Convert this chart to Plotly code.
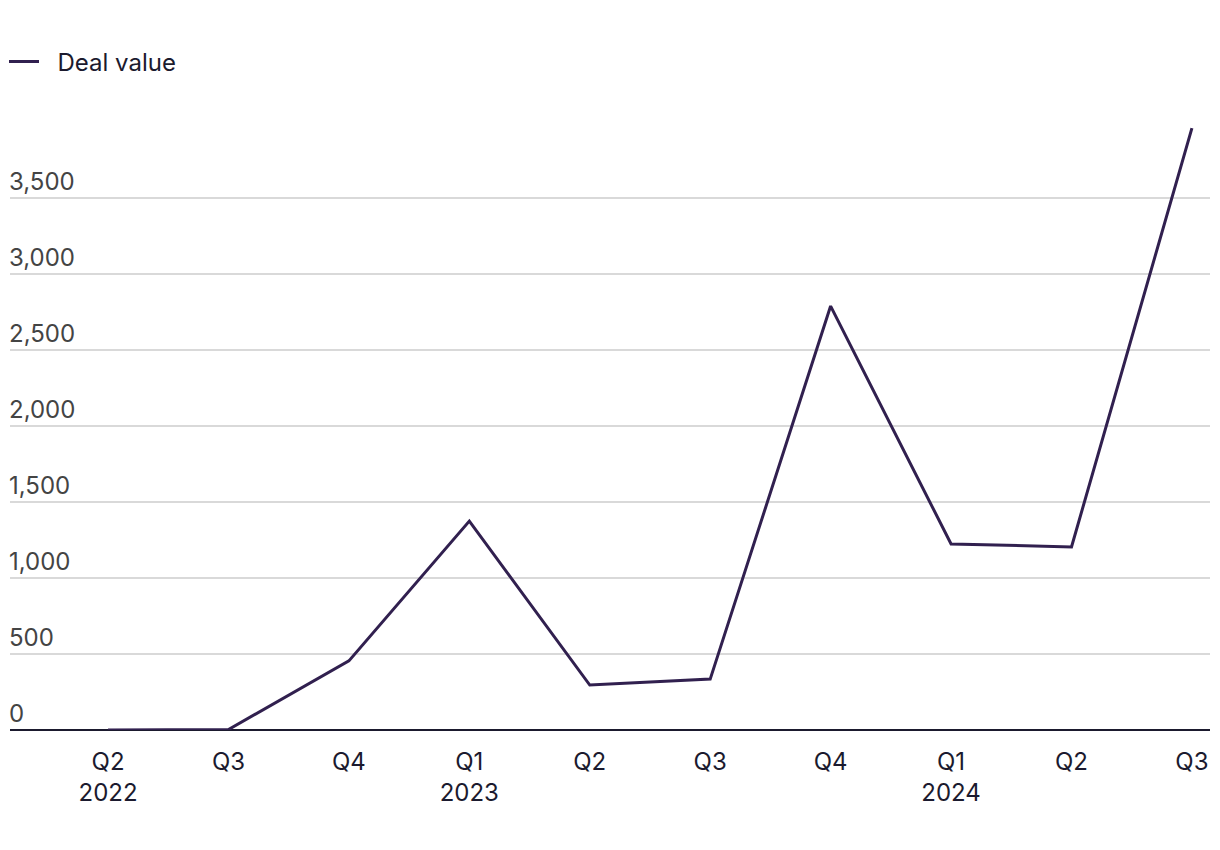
import plotly.graph_objects as go

# quarterly deal value
quarters = ['Q2<br>2022', 'Q3', 'Q4', 'Q1<br>2023', 'Q2', 'Q3', 'Q4', 'Q1<br>2024', 'Q2', 'Q3']
deal_value = [0, 3, 455, 1375, 296, 335, 2790, 1224, 1205, 3961]
y_ticks = [0, 500, 1000, 1500, 2000, 2500, 3000, 3500]
y_tick_labels = ['0', '500', '1,000', '1,500', '2,000', '2,500', '3,000', '3,500']

x_pos = list(range(len(quarters)))
text_color = '#1b1a2e'
line_color = '#31204f'

fig = go.Figure()

fig.add_trace(go.Scatter(
    x=x_pos,
    y=deal_value,
    mode='lines',
    name='\u00a0\u00a0Deal value',  # nbsp keeps a gap after the legend line
    line=dict(color=line_color, width=3),
))

# faint watermark
fig.add_annotation(
    text='GlobalData',
    x=0.5, xref='paper',
    y=2000, yref='y',
    showarrow=False,
    font=dict(family='Inter', size=48, color='rgba(0,0,0,0.025)', weight='bold'),
)

# the page body has an 8px margin, so the figure is sized to fit inside it
fig.update_layout(
    width=1204,
    height=834,
    margin=dict(l=2, r=2, t=99, b=112, autoexpand=False),
    paper_bgcolor='white',
    plot_bgcolor='white',
    font=dict(family='Inter', size=24, color=text_color),
    showlegend=True,
    legend=dict(
        orientation='h',
        x=-0.005, xanchor='left',
        y=1 - 54 / 834, yref='container', yanchor='middle',
        font=dict(size=24, color=text_color),
        itemwidth=30,
        bgcolor='rgba(0,0,0,0)',
    ),
    xaxis=dict(
        range=[-0.814, 9.15],
        tickmode='array',
        tickvals=x_pos,
        ticktext=quarters,
        showgrid=False,
        zeroline=False,
        showline=False,
        ticks='outside',
        ticklen=10,
        tickcolor='rgba(0,0,0,0)',
    ),
    yaxis=dict(
        range=[0, 4100],
        tickmode='array',
        tickvals=y_ticks,
        ticktext=y_tick_labels,
        ticklabelposition='inside top',
        ticklabelstandoff=-4,
        showgrid=True,
        gridcolor='#d9d9d9',
        gridwidth=2,
        zeroline=True,
        zerolinecolor=text_color,
        zerolinewidth=2,
        showline=False,
    ),
)

fig.write_html("out.html")
